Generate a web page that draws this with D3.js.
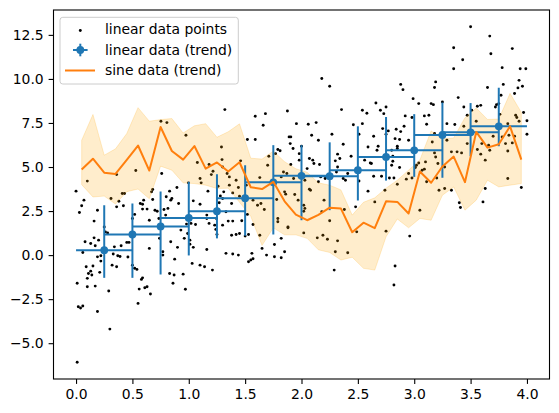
<!DOCTYPE html>
<html><head><meta charset="utf-8">
<script src="https://cdn.jsdelivr.net/npm/d3@7"></script>
<style>body{margin:0;background:#fff} svg{display:block} text{font-family:"DejaVu Sans",sans-serif}</style>
</head><body><svg id="c" width="559" height="413"></svg>
<script>
const linearPoints = [
[0.00,3.63],[0.07,3.12],[0.05,2.8],[0.19,2.55],[0.03,2.42],[0.16,1.93],[0.08,0.76],[0.13,0.66],[0.17,0.53],[0.2,0.85],[0.06,0.15],[0.19,-0.1],[0.22,-0.04],[0.22,-0.34],[0.09,-0.66],[0.15,-0.62],[0.13,-0.91],[0.11,-1.04],[0.14,-1.13],[0.1,-1.32],[0.21,-0.98],[0.01,-1.6],[0.1,-1.8],[0.17,-1.76],[0.02,-2.93],[0.04,-3.0],[0.06,-2.89],[0.01,-6.08],[0.19,-3.2],[0.1,4.2],[0.16,0.98],
[0.25,1.6],[0.26,1.32],[0.28,1.26],[0.34,0.47],[0.4,0.53],[0.33,0.06],[0.37,-0.04],[0.39,-0.08],[0.46,-0.11],[0.45,0.72],[0.47,0.72],[0.31,3.21],[0.41,3.5],[0.43,3.5],[0.36,2.74],[0.38,3.06],[0.42,2.8],[0.32,-0.57],[0.36,-0.66],[0.29,-2.04],[0.3,-4.2],[0.36,4.57],
[0.52,2.31],[0.5,2.08],[0.57,2.93],[0.59,2.89],[0.59,2.61],[0.63,2.61],[0.68,3.16],[0.7,2.55],[0.72,2.49],[0.65,1.98],[0.65,0.38],[0.735,2.08],[0.5,-0.57],[0.52,-0.75],[0.59,-1.29],[0.58,-1.38],[0.63,-1.8],[0.61,-1.85],[0.56,-1.93],[0.66,-2.21],[0.55,-2.74],[0.53,4.8],[0.6,3.12],[0.67,3.59],[0.54,-0.81],[0.74,0.95],[0.68,3.72],
[0.78,2.59],[0.815,2.65],[0.795,2.27],[0.757,1.51],[0.84,0.76],[0.77,0.19],[0.77,0.0],[0.875,-0.23],[0.9,0.44],[0.85,3.21],[0.84,3.12],[0.8,3.31],[0.895,3.84],[0.91,2.93],[0.83,3.63],[0.96,0.95],[0.98,1.76],[0.83,-1.04],[0.87,-1.13],[0.95,-1.08],[0.86,-1.6],[0.97,-1.94],[0.93,1.42],[0.76,4.63],[0.753,7.6],[0.806,7.52],[0.975,6.8],[0.997,4.1],
[0.99,1.23],[1.01,0.85],[1.01,0.62],[1.04,0.44],[1.02,1.8],[1.06,1.74],[1.04,3.08],[1.1,2.89],[1.17,3.63],[1.16,2.08],[1.18,1.8],[1.16,0.32],[1.23,1.7],[1.24,1.46],[1.245,2.08],[1.03,-0.47],[1.1,-0.57],[1.14,-0.66],[1.21,-0.85],[1.16,2.27],[1.076,5.26],[1.1,4.35],[1.11,4.1],[1.18,5.14],[1.215,4.76],[1.2,4.57],
[1.28,3.36],[1.31,3.59],[1.3,3.21],[1.25,1.17],[1.26,3.91],[1.29,6.14],[1.295,5.42],[1.32,8.26],[1.34,4.63],[1.36,4.44],[1.42,4.25],[1.46,5.35],[1.44,3.84],[1.39,3.53],[1.47,1.95],[1.42,1.17],[1.38,1.13],[1.27,2.97],[1.33,2.46],[1.38,2.93],[1.45,1.23],[1.33,0.1],[1.39,0.06],[1.44,0.0],[1.3,5.0],[1.36,3.97],[1.45,3.34],[1.3,1.7],[1.35,1.93],[1.39,1.93],
[1.59,7.88],[1.68,8.03],[1.66,7.37],[1.52,6.56],[1.59,6.56],[1.71,5.61],[1.7,5.1],[1.63,4.4],[1.51,3.97],[1.57,3.12],[1.64,2.93],[1.67,2.59],[1.63,1.13],[1.52,2.31],[1.57,1.74],[1.5,1.08],[1.65,0.38],[1.69,0.0],[1.56,0.1],[1.53,-0.38],[1.55,-0.28],[1.57,-0.21],[1.61,2.83],[1.53,1.17],
[1.875,8.18],[1.955,7.46],[1.89,6.71],[1.905,6.71],[1.79,5.99],[1.81,5.92],[1.9,6.33],[1.925,6.05],[1.98,5.76],[2.0,6.18],[1.77,5.76],[1.905,5.14],[1.84,4.72],[1.87,4.63],[1.93,4.35],[1.98,5.39],[1.82,4.44],[1.85,3.59],[1.86,3.46],[1.97,3.12],[1.88,1.6],[1.82,0.95],[1.76,0.6],[1.85,0.19],[1.82,-0.15],[1.79,2.08],[1.79,1.89],[1.88,1.55],[1.94,3.44],[1.78,3.16],[1.76,-0.09],
[2.18,10.02],[2.25,9.58],[2.06,7.43],[2.13,7.52],[2.15,6.52],[2.09,6.8],[2.07,5.48],[2.1,5.39],[2.11,5.2],[2.05,4.91],[2.16,5.14],[2.17,4.44],[2.21,4.35],[2.03,4.25],[2.08,3.68],[2.15,4.16],[2.2,3.12],[2.19,1.13],[2.02,1.26],[2.14,0.98],[2.02,2.83],[2.03,2.65],[2.02,2.49],[2.07,3.74],[2.18,2.46],[2.23,0.9],[2.25,1.95],
[2.355,8.26],[2.37,6.29],[2.3,5.35],[2.34,5.48],[2.32,5.0],[2.31,4.72],[2.41,4.63],[2.37,4.35],[2.44,5.61],[2.46,7.4],[2.27,6.86],[2.32,5.73],[2.39,4.25],[2.38,2.59],[2.32,0.81],[2.3,0.19],[2.29,-0.85],[2.41,0.13],[2.49,1.32],[2.48,2.74],
[2.54,8.22],[2.58,8.05],[2.7,8.22],[2.66,8.63],[2.73,8.03],[2.54,7.46],[2.51,6.86],[2.59,6.14],[2.68,6.18],[2.67,5.95],[2.62,5.2],[2.64,4.48],[2.64,6.75],[2.56,5.39],[2.61,5.23],[2.51,4.21],[2.59,3.63],[2.65,3.02],[2.72,7.18],[2.71,4.48],
[2.75,8.41],[2.88,9.69],[2.9,9.39],[2.99,8.88],[2.92,7.9],[2.98,7.81],[2.91,7.31],[2.84,7.14],[2.77,7.05],[2.88,7.01],[2.87,6.56],[2.95,6.52],[2.85,6.05],[2.8,5.1],[2.81,5.33],[2.78,4.38],[2.82,4.38],[2.85,4.02],[2.93,4.31],[2.95,4.63],[2.98,4.38],[2.75,6.86],[2.83,6.61],[2.75,1.36],[2.96,1.08],[2.74,3.68],[2.83,-0.62],[2.82,-1.7],[2.81,5.61],[2.85,6.18],[2.8,5.95],[2.87,4.97],
[3.04,8.6],[3.19,9.83],[3.18,9.51],[3.15,8.6],[3.17,8.54],[3.09,7.9],[3.13,7.94],[3.11,7.43],[3.07,4.82],[3.02,5.1],[3.04,5.23],[3.1,5.29],[3.09,4.88],[3.11,4.16],[3.2,4.38],[3.21,5.2],[3.19,5.57],[3.18,5.8],[3.18,6.9],[3.22,3.68],[3.05,2.55],[3.16,6.42],[3.01,4.97],
[3.25,8.69],[3.39,8.94],[3.44,8.41],[3.35,11.77],[3.43,11.09],[3.35,10.58],[3.29,7.46],[3.36,7.41],[3.47,7.94],[3.44,7.31],[3.27,3.78],[3.33,3.68],[3.33,5.86],[3.38,5.86],[3.42,5.8],[3.47,6.33],[3.4,2.97],[3.41,2.7],[3.29,6.52],[3.27,5.0],
[3.5,12.96],[3.67,12.43],[3.68,11.43],[3.65,9.51],[3.51,8.22],[3.56,8.45],[3.59,8.5],[3.72,8.41],[3.73,8.54],[3.55,7.6],[3.61,3.02],[3.63,3.78],[3.56,5.99],[3.59,5.73],[3.6,6.33],[3.67,5.95],[3.66,6.24],[3.7,6.75],[3.63,5.39],
[3.87,11.72],[3.78,10.64],[3.94,10.58],[3.99,10.58],[3.93,9.92],[3.96,9.58],[3.92,9.49],[3.79,9.69],[3.77,9.07],[3.89,9.17],[3.75,8.6],[3.97,8.09],[3.9,7.94],[3.91,7.81],[3.93,7.6],[4.0,7.63],[3.76,7.99],[3.83,7.46],[3.78,6.71],[3.81,6.33],[3.84,6.8],[3.89,6.75],[3.87,6.37],[3.83,4.35],[3.95,3.84],[4.0,6.86],[3.83,5.91]
];

const trendX = [0.25,0.5,0.75,1.0,1.25,1.5,1.75,2.0,2.25,2.5,2.75,3.0,3.25,3.5,3.75];
const trendMean = [0.28,1.17,1.63,2.11,2.49,3.23,4.13,4.5,4.48,4.82,5.57,5.95,6.82,6.97,7.31];
const trendLow  = [-1.29,-1.29,-1.1,-0.02,0.95,1.1,1.17,1.98,2.55,3.1,4.23,4.44,4.39,5.62,6.18];
const trendHigh = [2.83,2.93,3.61,4.16,4.59,5.1,6.24,6.24,6.4,7.31,7.84,8.0,8.66,8.63,9.5];
const trendXErr = 0.25;

const sineX = [0.05,0.15,0.25,0.35,0.45,0.55,0.65,0.75,0.85,0.95,1.05,1.15,1.25,1.35,1.45,1.55,1.65,1.75,1.85,1.95,2.05,2.15,2.25,2.35,2.45,2.55,2.65,2.75,2.85,2.95,3.05,3.15,3.25,3.35,3.45,3.55,3.65,3.75,3.85,3.95];
const sineMean = [4.86,5.47,4.68,4.61,5.4,6.22,4.8,7.27,5.91,5.42,6.19,4.91,5.26,4.75,5.27,3.85,3.75,4.16,3.05,2.3,1.98,2.28,2.69,2.64,1.3,1.84,1.53,3.05,3.02,2.36,4.75,4.11,5.03,5.59,4.14,6.99,6.1,6.29,7.31,5.42];
const sineLow  = [4.0,3.3,3.35,2.9,3.6,3.75,3.2,5.05,4.82,4.1,4.06,3.97,3.78,3.8,3.0,2.2,0.55,1.55,1.15,1.15,0.95,0.3,0.15,-0.28,-0.12,-0.75,-0.85,1.04,2.05,1.55,2.08,1.98,3.4,3.87,2.55,3.12,4.25,3.87,3.97,4.06];
const sineHigh = [6.52,7.98,5.67,6.03,6.9,8.37,7.6,7.69,7.75,6.93,7.34,7.46,6.69,7.0,7.45,5.5,5.45,5.9,5.3,4.9,4.7,4.1,3.97,3.7,2.27,3.0,3.25,3.8,4.25,4.82,5.4,7.05,6.6,6.65,7.8,8.35,7.7,7.72,9.18,8.1];

const xTicks = [0,0.5,1,1.5,2,2.5,3,3.5,4];
const yTicks = [-5,-2.5,0,2.5,5,7.5,10,12.5];
const legendLabels = ["linear data points","linear data (trend)","sine data (trend)"];

const BLUE = "#1f77b4", ORANGE = "#ff7f0e", BAND = "orange";
const L = 53.5, R = 549.5, T = 10, B = 379;
const FS = "13.9px";

const svg = d3.select("#c");
svg.append("rect").attr("width",559).attr("height",413).attr("fill","#fff");

const x = d3.scaleLinear().domain([-0.2, 4.2]).range([L, R]);
const ext = d3.extent(linearPoints, d => d[1]);
const pad = (ext[1] - ext[0]) * 0.05;
const y = d3.scaleLinear().domain([ext[0] - pad, ext[1] + pad]).range([B, T]);

// scatter
svg.append("g").selectAll("circle").data(linearPoints).join("circle")
  .attr("cx", d => x(d[0])).attr("cy", d => y(d[1])).attr("r", 1.45).attr("fill", "#000");

// sine band (drawn over the points, under the lines)
const sine = sineX.map((v,i) => ({x:v, m:sineMean[i], lo:sineLow[i], hi:sineHigh[i]}));
svg.append("path").datum(sine)
  .attr("d", d3.area().x(d => x(d.x)).y0(d => y(d.lo)).y1(d => y(d.hi)))
  .attr("fill", BAND).attr("fill-opacity", 0.2)
  .attr("stroke", BAND).attr("stroke-opacity", 0.2).attr("stroke-width", 1);

// error bars
const trend = trendX.map((v,i) => ({x:v, m:trendMean[i], lo:trendLow[i], hi:trendHigh[i]}));
const eg = svg.append("g").attr("stroke", BLUE).attr("stroke-width", 2);
eg.selectAll("line.h").data(trend).join("line").attr("class","h")
  .attr("x1", d => x(d.x - trendXErr)).attr("x2", d => x(d.x + trendXErr))
  .attr("y1", d => y(d.m)).attr("y2", d => y(d.m));
eg.selectAll("line.v").data(trend).join("line").attr("class","v")
  .attr("x1", d => x(d.x)).attr("x2", d => x(d.x))
  .attr("y1", d => y(d.lo)).attr("y2", d => y(d.hi));
svg.append("g").selectAll("circle").data(trend).join("circle")
  .attr("cx", d => x(d.x)).attr("cy", d => y(d.m)).attr("r", 3.9).attr("fill", BLUE);

// sine trend line
svg.append("path").datum(sine)
  .attr("d", d3.line().x(d => x(d.x)).y(d => y(d.m)))
  .attr("fill","none").attr("stroke", ORANGE).attr("stroke-width", 2).attr("stroke-linejoin","round");

// axes
const fmt = d3.format(".1f");
const xa = svg.append("g").attr("transform", `translate(0,${B})`)
  .call(d3.axisBottom(x).tickValues(xTicks).tickFormat(fmt).tickSize(4.9).tickPadding(4.9).tickSizeOuter(0));
const ya = svg.append("g").attr("transform", `translate(${L},0)`)
  .call(d3.axisLeft(y).tickValues(yTicks).tickFormat(fmt).tickSize(4.9).tickPadding(4.9).tickSizeOuter(0));
[xa, ya].forEach(a => {
  a.select(".domain").remove();
  a.selectAll("line").attr("stroke", "#000").attr("stroke-width", 1.1);
  a.selectAll("text").attr("fill", "#000").style("font-size", FS).style("font-family", '"DejaVu Sans", sans-serif');
});
svg.append("rect").attr("x", L).attr("y", T).attr("width", R - L).attr("height", B - T)
  .attr("fill", "none").attr("stroke", "#000").attr("stroke-width", 1.1);

// legend
const lg = svg.append("g");
lg.append("rect").attr("x", 60).attr("y", 17.3).attr("width", 178.3).attr("height", 66.7)
  .attr("rx", 2.8).attr("fill", "#fff").attr("fill-opacity", 0.8).attr("stroke", "#cccccc").attr("stroke-width", 1);
const rowY = [29.5, 50, 70.5];
lg.append("circle").attr("cx", 80.3).attr("cy", rowY[0] + 1).attr("r", 1.45).attr("fill", "#000");
lg.append("line").attr("x1", 73).attr("x2", 87.6).attr("y1", rowY[1]).attr("y2", rowY[1]).attr("stroke", BLUE).attr("stroke-width", 2);
lg.append("line").attr("x1", 80.3).attr("x2", 80.3).attr("y1", rowY[1] - 6.3).attr("y2", rowY[1] + 6.3).attr("stroke", BLUE).attr("stroke-width", 2);
lg.append("circle").attr("cx", 80.3).attr("cy", rowY[1]).attr("r", 3.9).attr("fill", BLUE);
lg.append("line").attr("x1", 65).attr("x2", 95).attr("y1", rowY[2]).attr("y2", rowY[2]).attr("stroke", ORANGE).attr("stroke-width", 2);
lg.selectAll("text").data(legendLabels).join("text")
  .attr("x", 105).attr("y", (d,i) => rowY[i] + 4.8)
  .style("font-size", FS).attr("fill", "#000").text(d => d);
</script>
</body></html>
